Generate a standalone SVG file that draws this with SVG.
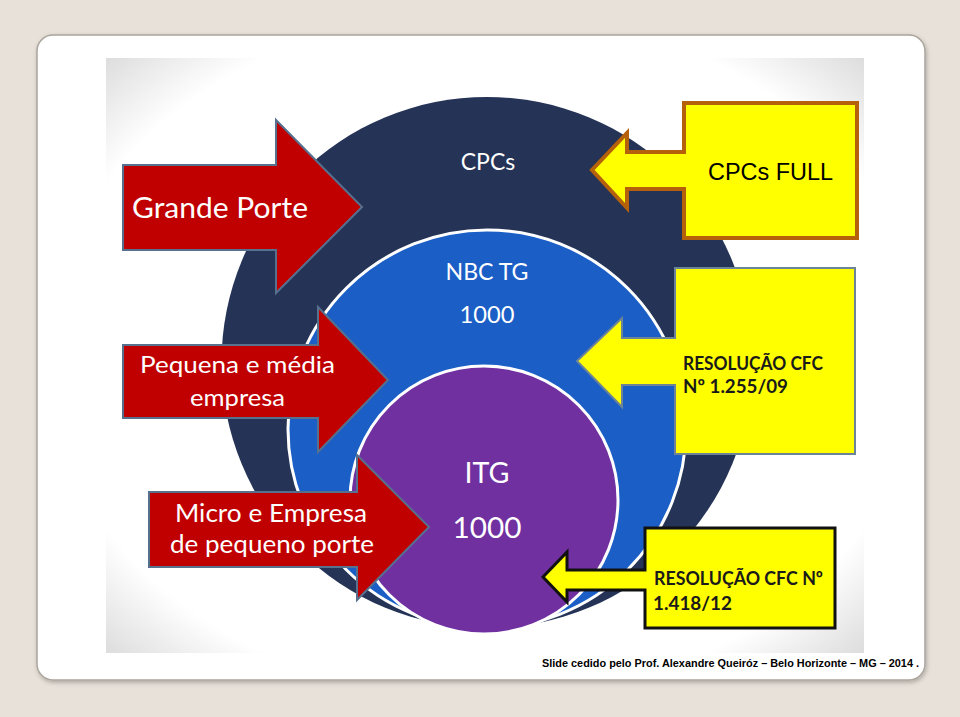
<svg xmlns="http://www.w3.org/2000/svg" width="960" height="717" viewBox="0 0 960 717">
<defs>
  <radialGradient id="vig" cx="0.5" cy="0.5" r="0.74">
    <stop offset="0.78" stop-color="#ffffff"/>
    <stop offset="1" stop-color="#d4d4d4"/>
  </radialGradient>
  <filter id="shadow" x="-5%" y="-5%" width="110%" height="110%">
    <feDropShadow dx="1" dy="2" stdDeviation="2" flood-color="#000" flood-opacity="0.25"/>
  </filter>
</defs>
<style>
  .cal { font-family: Lato, "Open Sans", "Noto Sans", sans-serif; fill: #ffffff; text-anchor: middle; }
  .red { fill: #c00000; stroke: #56708e; stroke-width: 2; stroke-linejoin: miter; }
  .ylw { fill: #ffff00; }
  .res { font-family: Lato, "Open Sans", "Noto Sans", sans-serif; font-weight: bold; fill: #1a1a1a; }
  .foot { font-family: "Liberation Sans", Arial, sans-serif; font-weight: bold; font-size: 11px; fill: #000; }
</style>
<rect x="0" y="0" width="960" height="717" fill="#e7e1d9"/>
<rect id="card" x="37" y="35" width="888" height="645" rx="16" ry="16" fill="#ffffff" stroke="#aaa49c" stroke-width="1.5" filter="url(#shadow)"/>
<rect id="picture" x="106" y="58" width="758" height="595" fill="url(#vig)"/>

<g id="circle-cpcs">
  <circle cx="487" cy="362.5" r="265.5" fill="#253356"/>
  <text class="cal" x="488" y="170" font-size="23">CPCs</text>
</g>
<g id="circle-nbctg">
  <circle cx="487" cy="429" r="199" fill="#1a5ec6" stroke="#ffffff" stroke-width="3"/>
  <text class="cal" x="487" y="280" font-size="24" textLength="83" lengthAdjust="spacingAndGlyphs">NBC TG</text>
  <text class="cal" x="487" y="323" font-size="24" textLength="55" lengthAdjust="spacingAndGlyphs">1000</text>
</g>
<g id="circle-itg">
  <circle cx="484" cy="500" r="134" fill="#7030a0" stroke="#ffffff" stroke-width="3"/>
  <text class="cal" x="487" y="483" font-size="29" textLength="45" lengthAdjust="spacingAndGlyphs">ITG</text>
  <text class="cal" x="487" y="538" font-size="29" textLength="69" lengthAdjust="spacingAndGlyphs">1000</text>
</g>

<g id="arrow-grande">
  <polygon class="red" points="123,165 276,165 276,120 362,207 276,293 276,250 123,250"/>
  <text class="cal" x="220" y="218" font-size="28" textLength="176" lengthAdjust="spacingAndGlyphs">Grande Porte</text>
</g>
<g id="arrow-pequena">
  <polygon class="red" points="123,345 318,345 318,307 388,380 318,452 318,418 123,418"/>
  <text class="cal" x="237.5" y="373" font-size="23" textLength="195" lengthAdjust="spacingAndGlyphs">Pequena e média</text>
  <text class="cal" x="237.5" y="406" font-size="23" textLength="95" lengthAdjust="spacingAndGlyphs">empresa</text>
</g>
<g id="arrow-micro">
  <polygon class="red" points="149,492 357,492 357,455 429,527 357,600 357,567 149,567"/>
  <text class="cal" x="271" y="522" font-size="25" textLength="192" lengthAdjust="spacingAndGlyphs">Micro e Empresa</text>
  <text class="cal" x="272" y="553" font-size="25" textLength="204" lengthAdjust="spacingAndGlyphs">de pequeno porte</text>
</g>

<g id="callout-cpcs-full">
  <path class="ylw" d="M684,103 H857 V238 H684 V189 H627 V208 L592,170 L627,133 V152 H684 Z" stroke="#b5600a" stroke-width="4"/>
  <text x="708" y="180" font-family="'Liberation Sans', Arial, sans-serif" font-size="23.5" fill="#000" textLength="125" lengthAdjust="spacingAndGlyphs">CPCs FULL</text>
</g>
<g id="callout-res-1255">
  <path class="ylw" d="M675,268 H855 V454 H675 V385 H622 V407 L577,361 L622,318 V338 H675 Z" stroke="#6d8397" stroke-width="2"/>
  <text class="res" x="683" y="370" font-size="18.5" textLength="140" lengthAdjust="spacingAndGlyphs">RESOLUÇÃO CFC</text>
  <text class="res" x="683" y="393" font-size="18.5" textLength="105" lengthAdjust="spacingAndGlyphs">Nº 1.255/09</text>
</g>
<g id="callout-res-1418">
  <path class="ylw" d="M645,528 H835 V628 H645 V590 H567 V602 L543,577 L567,552 V570 H645 Z" stroke="#111111" stroke-width="3"/>
  <text class="res" x="654" y="585" font-size="18.5" textLength="169" lengthAdjust="spacingAndGlyphs">RESOLUÇÃO CFC Nº</text>
  <text class="res" x="653" y="610" font-size="18.5" textLength="79" lengthAdjust="spacingAndGlyphs">1.418/12</text>
</g>

<g id="connectors"></g>

<text id="footer" class="foot" x="542" y="667" textLength="377" lengthAdjust="spacingAndGlyphs">Slide cedido pelo Prof. Alexandre Queiróz – Belo Horizonte – MG – 2014 .</text>
</svg>
